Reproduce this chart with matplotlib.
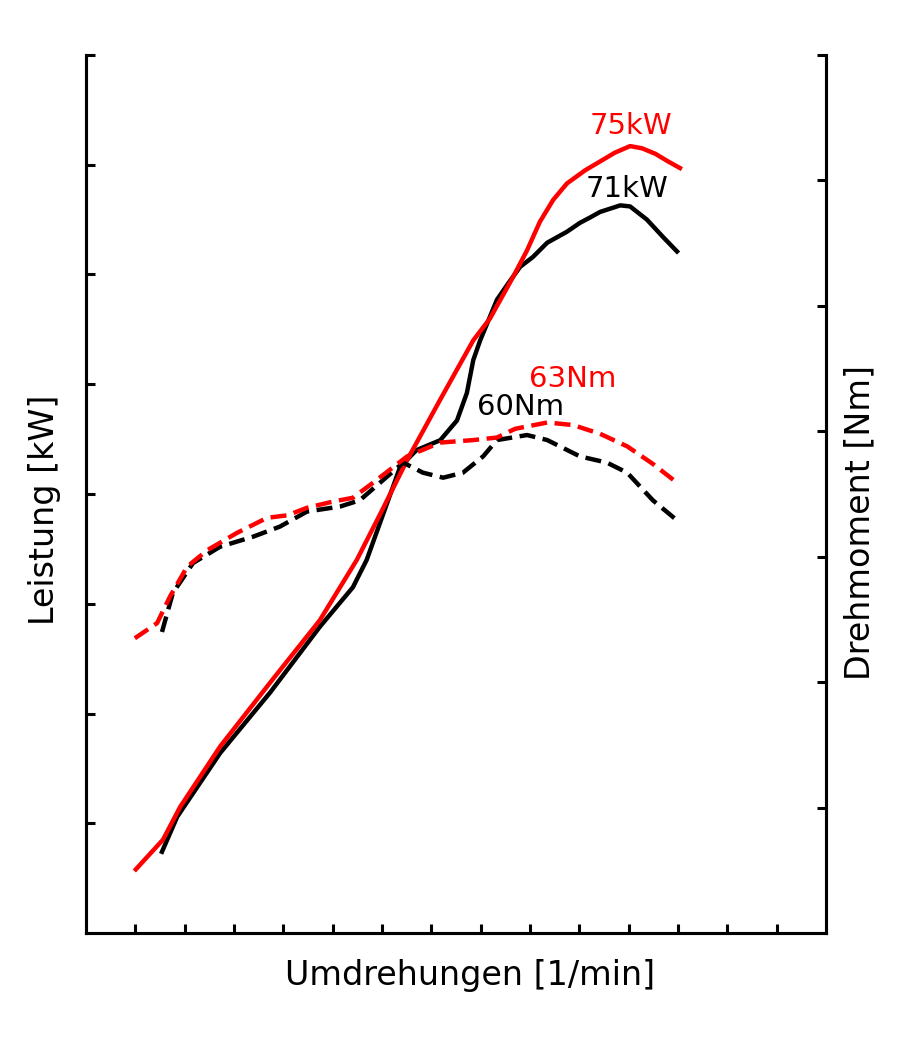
import numpy as np
import matplotlib
matplotlib.use('Agg')
import matplotlib.pyplot as plt

# Drehzahl in 1000/min, Leistung in kW, Drehmoment in Nm (Achsen ohne Beschriftung)
rpm_p_red = [1.01, 1.56, 1.91, 2.72, 3.73, 4.74, 5.49, 6.00, 6.51, 7.18, 7.85, 8.19, 8.66, 8.94, 9.20, 9.47, 9.75, 10.12, 10.42, 10.72, 11.03, 11.27, 11.54, 11.80, 12.04]
p_red = [5.8, 8.5, 11.5, 17.0, 22.8, 28.5, 34.0, 38.5, 43.1, 48.6, 54.0, 56.0, 59.8, 62.2, 64.8, 66.8, 68.3, 69.5, 70.3, 71.1, 71.7, 71.5, 71.0, 70.3, 69.7]

rpm_p_black = [1.54, 1.85, 2.72, 3.73, 4.74, 5.41, 5.69, 6.37, 6.70, 7.18, 7.52, 7.72, 7.85, 7.99, 8.33, 8.56, 8.80, 9.06, 9.35, 9.75, 10.01, 10.22, 10.42, 10.83, 11.03, 11.37, 11.70, 11.98]
p_black = [7.4, 10.6, 16.4, 21.9, 27.9, 31.5, 34.0, 42.5, 44.0, 44.9, 46.7, 49.2, 52.2, 54.0, 57.7, 59.2, 60.7, 61.6, 62.9, 63.9, 64.7, 65.2, 65.7, 66.3, 66.2, 65.0, 63.4, 62.1]

rpm_m_red = [0.99, 1.44, 1.70, 2.05, 2.45, 3.06, 3.67, 4.08, 4.48, 5.01, 5.41, 5.82, 6.51, 7.18, 7.85, 8.33, 8.70, 9.35, 9.87, 10.42, 10.97, 11.49, 11.98]
m_red = [23.5, 24.7, 26.8, 29.2, 30.5, 31.9, 33.1, 33.3, 33.9, 34.4, 34.7, 35.9, 38.0, 39.1, 39.3, 39.5, 40.2, 40.7, 40.5, 39.8, 38.8, 37.4, 35.9]

rpm_m_black = [1.54, 1.76, 2.17, 2.72, 3.39, 3.93, 4.48, 5.15, 5.55, 5.96, 6.43, 6.83, 7.24, 7.64, 8.05, 8.33, 8.94, 9.35, 10.01, 10.56, 10.97, 11.49, 11.98]
m_black = [24.0, 27.1, 29.5, 30.8, 31.6, 32.4, 33.6, 34.0, 34.5, 35.9, 37.5, 36.7, 36.3, 36.7, 38.0, 39.3, 39.7, 39.3, 38.0, 37.5, 36.7, 34.5, 32.9]

fig = plt.figure(figsize=(9, 10.4), dpi=100)
ax = fig.add_axes([86/900, 1 - 933/1040, 740/900, 878/1040])
ax2 = ax.twinx()

lw = 3.2
ax.plot(rpm_p_black, p_black, color='black', lw=lw)
ax.plot(rpm_p_red, p_red, color='#ff0000', lw=lw)
ax2.plot(rpm_m_black, m_black, color='black', lw=lw, dashes=[3.6, 1.7])
ax2.plot(rpm_m_red, m_red, color='#ff0000', lw=lw, dashes=[3.6, 1.7])

ax.set_xlim(0, 15)
ax.set_ylim(0, 80)
ax2.set_ylim(0, 70)
ax.set_xticks(np.arange(1, 15))
ax.set_yticks(np.arange(10, 81, 10))
ax2.set_yticks(np.arange(10, 71, 10))

for a in (ax, ax2):
    a.spines['top'].set_visible(False)
    for s in a.spines.values():
        s.set_linewidth(2.2)
    a.tick_params(direction='in', length=6.5, width=2.2,
                  labelbottom=False, labelleft=False, labelright=False)

fig.text(470/900, 1 - 975/1040, 'Umdrehungen [1/min]', fontsize=24, ha='center', va='center')
fig.text(45/900, 1 - 510/1040, 'Leistung [kW]', fontsize=24, rotation=90, ha='center', va='center')
fig.text(860/900, 1 - 522/1040, 'Drehmoment [Nm]', fontsize=24, rotation=90, ha='center', va='center')

fig.text(590/900, 1 - 126/1040, '75kW', fontsize=21, color='#ff0000', ha='left', va='center')
fig.text(586/900, 1 - 189/1040, '71kW', fontsize=21, color='black', ha='left', va='center')
fig.text(529/900, 1 - 379/1040, '63Nm', fontsize=21, color='#ff0000', ha='left', va='center')
fig.text(477/900, 1 - 407/1040, '60Nm', fontsize=21, color='black', ha='left', va='center')

plt.savefig('out.png', dpi=100)
